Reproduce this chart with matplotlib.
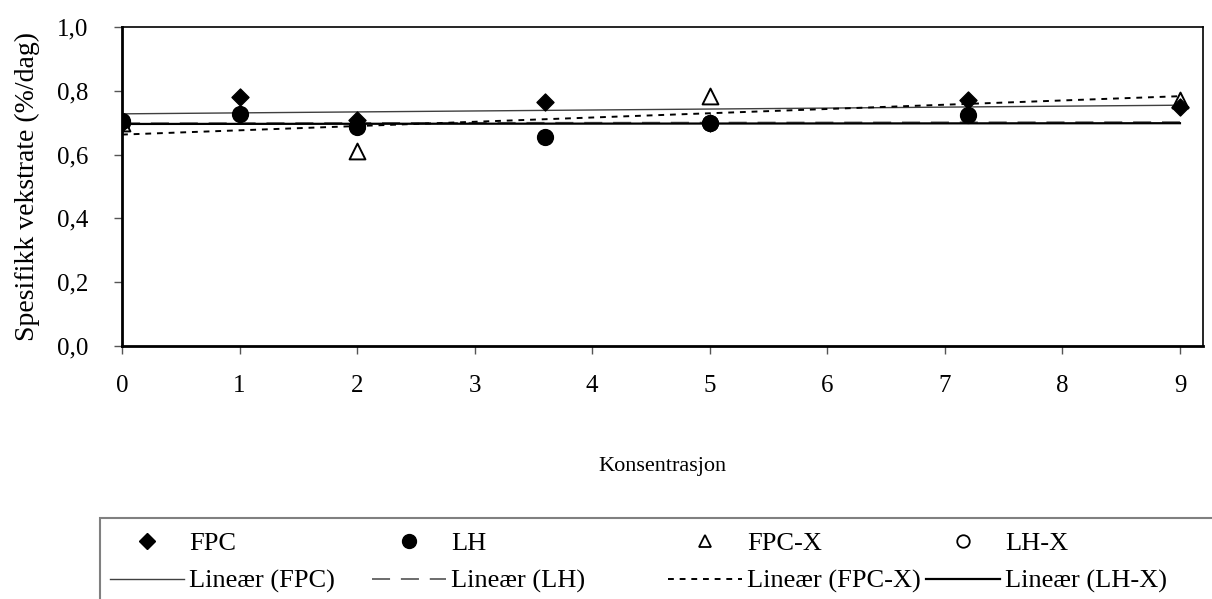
import numpy as np
import matplotlib
matplotlib.use("Agg")
import matplotlib.pyplot as plt
from matplotlib.lines import Line2D
from matplotlib.patches import Rectangle

plt.rcParams['font.family'] = ['Liberation Serif', 'DejaVu Serif']

# Data
fpc_x = [0, 1, 2, 3.6, 5, 7.2, 9]
fpc_y = [0.700, 0.782, 0.710, 0.764, 0.700, 0.772, 0.750]
lh_x = [0, 1, 2, 3.6, 5, 7.2]
lh_y = [0.705, 0.726, 0.688, 0.655, 0.700, 0.723]
fpcx_x = [0, 2, 5, 9]
fpcx_y = [0.700, 0.610, 0.785, 0.770]
lhx_x = [0, 2, 5]
lhx_y = [0.700, 0.690, 0.700]
xticks = list(range(0, 10))
yticks = [0.0, 0.2, 0.4, 0.6, 0.8, 1.0]

W, H = 1212, 599
fig = plt.figure(figsize=(W/100, H/100), dpi=100)
ax = fig.add_axes([122/W, 1-346/H, 1081/W, 319/H])

ax.set_xlim(0, 9.196)
ax.set_ylim(0, 1.0)

xs = np.array([0, 9])
def trend(x, y):
    p = np.polyfit(x, y, 1)
    return np.polyval(p, xs)

st_fpc = dict(color='#404040', lw=1.0)
st_lh = dict(color='#606060', lw=1.3, dashes=(10, 6))
st_fpcx = dict(color='black', lw=1.4, dashes=(3, 3))
st_lhx = dict(color='black', lw=1.6)

ax.plot(xs, trend(fpc_x, fpc_y), zorder=2, **st_fpc)
ax.plot(xs, trend(lh_x, lh_y), zorder=2, **st_lh)
ax.plot(xs, trend(fpcx_x, fpcx_y), zorder=2, **st_fpcx)
ax.plot(xs, trend(lhx_x, lhx_y), zorder=2, **st_lhx)

ax.scatter(lhx_x, lhx_y, marker='o', s=120, facecolor='white', edgecolor='black', lw=1.3, zorder=3)
ax.scatter(fpcx_x, fpcx_y, marker='^', s=130, facecolor='white', edgecolor='black', lw=1.4, zorder=4)
ax.scatter(fpc_x, fpc_y, marker='D', s=75, color='black', zorder=5)
ax.scatter(lh_x, lh_y, marker='o', s=130, color='black', zorder=6)

ax.set_xticks(xticks)
ax.set_yticks(yticks)
ax.set_yticklabels([f"{v:.1f}".replace('.', ',') for v in yticks])
ax.tick_params(labelsize=18, length=6, width=1, color='#555555')
ax.tick_params(axis='x', pad=15)
ax.tick_params(axis='y', pad=18.5)
for s in ['left', 'bottom']:
    ax.spines[s].set_linewidth(2)
for s in ['top', 'right']:
    ax.spines[s].set_linewidth(1.2)
ax.set_xlabel('Konsentrasjon', fontsize=16, labelpad=43)
ax.set_ylabel('Spesifikk vekstrate (%/dag)', fontsize=20, labelpad=12)

# Legend frame
fig.patches.append(Rectangle((100/W, -0.05), 1.2, 1-518/H+0.05, transform=fig.transFigure,
                             facecolor='white', edgecolor='#808080', lw=1.5, zorder=0))

cols = [
    ('FPC', Line2D([], [], ls='none', marker='D', color='black', ms=8),
     'Lineær (FPC)', Line2D([], [], **st_fpc), 110, 2.8),
    ('LH', Line2D([], [], ls='none', marker='o', color='black', ms=10),
     'Lineær (LH)', Line2D([], [], **st_lh), 372, 2.8),
    ('FPC-X', Line2D([], [], ls='none', marker='^', mfc='white', mec='black', ms=8, mew=1.3),
     'Lineær (FPC-X)', Line2D([], [], **st_fpcx), 668, 2.8),
    ('LH-X', Line2D([], [], ls='none', marker='o', mfc='white', mec='black', ms=9, mew=1.3),
     'Lineær (LH-X)', Line2D([], [], **st_lhx), 926, 2.8),
]
for lab1, h1, lab2, h2, x0, hl in cols:
    leg = fig.legend([h1, h2], [lab1, lab2], loc='upper left',
                     bbox_to_anchor=(x0/W, 1-532/H), bbox_transform=fig.transFigure,
                     fontsize=19, frameon=False, handlelength=hl, handletextpad=0.2,
                     labelspacing=0.53, borderpad=0, borderaxespad=0)

fig.savefig('out.png', dpi=100)
